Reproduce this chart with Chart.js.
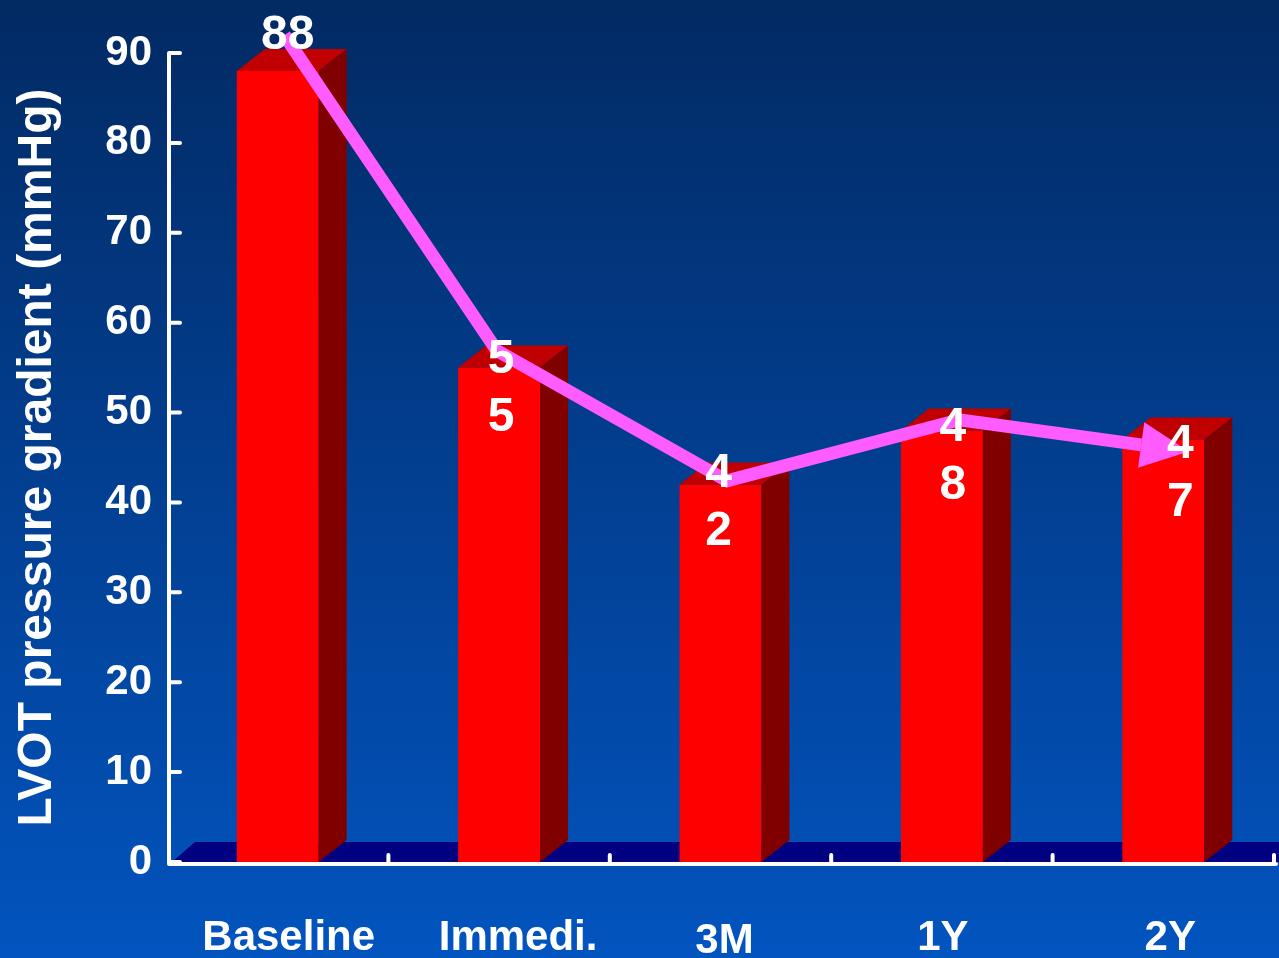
<!DOCTYPE html>
<html lang="en">
<head>
<meta charset="UTF-8">
<title>LVOT pressure gradient</title>
<script src="https://cdn.jsdelivr.net/npm/chart.js"></script>
<style>
  html, body { margin: 0; padding: 0; background: #022a63; }
  canvas { display: block; }
</style>
</head>
<body>
<canvas id="chart" width="1279" height="958"></canvas>
<script>
// data
const categories = ['Baseline', 'Immedi.', '3M', '1Y', '2Y'];
const gradientValues = [88, 55, 42, 48, 47];
const yTicks = [0, 10, 20, 30, 40, 50, 60, 70, 80, 90];
// trend arrow drawn over the bars (x in category units)
const trendX = [0.03, 0.99, 2.03, 3.08, 3.90];
const trendY = [92, 56.9, 42.4, 49.2, 46.4];
// all value labels except the first are written one digit per line
const stackDigits = [false, true, true, true, true];

// styling
const FONT = '"Liberation Sans", Arial, Helvetica, sans-serif';
const DEPTH_X = 28, DEPTH_Y = 22;
const valueNudge = [[10, -39], [2, -12], [-2, -14], [11, -7], [17, 1]];
const catNudge = [[11, 0], [19, 0], [4, 3], [1, 0], [7, 0]];

function poly(ctx, pts) {
    ctx.beginPath();
    ctx.moveTo(pts[0][0], pts[0][1]);
    for (let i = 1; i < pts.length; i++) ctx.lineTo(pts[i][0], pts[i][1]);
    ctx.closePath();
    ctx.fill();
}

const slideDecor = {
    id: 'slideDecor',
    beforeDraw(chart) {
        const {ctx, width, height} = chart;
        const g = ctx.createLinearGradient(0, 0, 0, height);
        g.addColorStop(0, '#022a63');
        g.addColorStop(1, '#0254bf');
        ctx.save();
        ctx.fillStyle = g;
        ctx.fillRect(0, 0, width, height);
        ctx.restore();
    },
    beforeDatasetsDraw(chart) {
        // navy floor behind the bars
        const {ctx, chartArea, width} = chart;
        const base = chart.scales.y.getPixelForValue(0);
        ctx.save();
        ctx.fillStyle = '#000080';
        poly(ctx, [[chartArea.left + 5, base], [chartArea.left + 28, base - 20], [width, base - 20], [width, base]]);
        ctx.restore();
    },
    afterDatasetDraw(chart, args) {
        const ctx = chart.ctx;
        const meta = args.meta;
        ctx.save();
        if (meta.type === 'bar') {
            // top and side faces of each bar
            meta.data.forEach(el => {
                const {x, y, base, width} = el.getProps(['x', 'y', 'base', 'width'], true);
                const l = x - width / 2, r = x + width / 2;
                ctx.fillStyle = '#c00000';
                poly(ctx, [[l, y], [l + DEPTH_X, y - DEPTH_Y], [r + DEPTH_X, y - DEPTH_Y], [r, y]]);
                ctx.fillStyle = '#800000';
                poly(ctx, [[r, y], [r + DEPTH_X, y - DEPTH_Y], [r + DEPTH_X, base - DEPTH_Y], [r, base]]);
            });
        } else if (meta.type === 'line') {
            // arrow head on the last point
            const pts = meta.data;
            const a = pts[pts.length - 2], b = pts[pts.length - 1];
            let dx = b.x - a.x, dy = b.y - a.y;
            const len = Math.hypot(dx, dy);
            dx /= len; dy /= len;
            const px = -dy, py = dx;
            ctx.fillStyle = '#ff5cff';
            poly(ctx, [
                [b.x + px * 23, b.y + py * 23],
                [b.x + dx * 48, b.y + dy * 48],
                [b.x - px * 23, b.y - py * 23]
            ]);
        }
        ctx.restore();
    },
    afterDatasetsDraw(chart) {
        const {ctx, chartArea} = chart;
        const yScale = chart.scales.y;
        const xScale = chart.scales.x;
        const base = yScale.getPixelForValue(0);
        const axisX = chartArea.left + 2;
        const catW = (chartArea.right - chartArea.left) / categories.length;

        ctx.save();
        ctx.strokeStyle = '#ffffff';
        ctx.lineWidth = 4;
        ctx.lineCap = 'round';
        ctx.beginPath();
        // y axis and its inward ticks
        ctx.moveTo(axisX, yScale.getPixelForValue(yTicks[yTicks.length - 1]));
        ctx.lineTo(axisX, base + 2);
        yTicks.forEach(v => {
            const y = yScale.getPixelForValue(v);
            ctx.moveTo(axisX, y);
            ctx.lineTo(axisX + 11, y);
        });
        // x axis and category dividers
        ctx.moveTo(axisX, base + 2);
        ctx.lineTo(chartArea.right + 2, base + 2);
        for (let i = 1; i <= categories.length; i++) {
            const x = chartArea.left + i * catW;
            ctx.moveTo(x, base + 2);
            ctx.lineTo(x, base - 7);
        }
        ctx.stroke();

        ctx.fillStyle = '#ffffff';
        ctx.textAlign = 'center';
        ctx.textBaseline = 'alphabetic';

        // value labels
        ctx.font = 'bold 48px ' + FONT;
        chart.getDatasetMeta(0).data.forEach((el, i) => {
            const text = String(gradientValues[i]);
            const lines = stackDigits[i] ? text.split('') : [text];
            const cx = el.x + valueNudge[i][0];
            const cy = el.y + valueNudge[i][1];
            lines.forEach((t, k) => ctx.fillText(t, cx, cy + 17 + k * 58));
        });

        // category labels
        ctx.font = 'bold 42px ' + FONT;
        categories.forEach((c, i) => {
            const x = xScale.getPixelForValue(i) + catNudge[i][0];
            ctx.fillText(c, x, base + 88 + catNudge[i][1]);
        });
        ctx.restore();
    }
};

const chart = new Chart(document.getElementById('chart'), {
    data: {
        labels: categories,
        datasets: [{
            type: 'bar',
            data: gradientValues,
            backgroundColor: '#ff0000',
            borderWidth: 0,
            grouped: false,
            categoryPercentage: 1,
            barPercentage: 0.37,
            xAxisID: 'x',
            order: 1
        }, {
            type: 'line',
            data: trendX.map((x, i) => ({x: x, y: trendY[i]})),
            xAxisID: 'xl',
            borderColor: '#ff5cff',
            borderWidth: 13,
            borderJoinStyle: 'miter',
            borderCapStyle: 'butt',
            pointRadius: 0,
            tension: 0,
            clip: false,
            order: 0
        }]
    },
    options: {
        responsive: false,
        animation: false,
        devicePixelRatio: 1,
        layout: { padding: { left: 0, right: 5, top: 53, bottom: 0 } },
        plugins: {
            legend: { display: false },
            tooltip: { enabled: false }
        },
        scales: {
            x: {
                type: 'category',
                grid: { display: false },
                border: { display: false },
                ticks: { display: false },
                afterFit: s => { s.height = 96; }
            },
            xl: {
                type: 'linear',
                display: false,
                min: -0.5,
                max: 4.5
            },
            y: {
                min: 0,
                max: 90,
                grid: { display: false },
                border: { display: false },
                afterBuildTicks: s => { s.ticks = yTicks.map(v => ({value: v})); },
                afterFit: s => { s.width = 167; },
                ticks: {
                    color: '#ffffff',
                    padding: 7,
                    font: { family: FONT, size: 42, weight: 'bold' }
                },
                title: {
                    display: true,
                    text: 'LVOT pressure gradient (mmHg)',
                    color: '#ffffff',
                    padding: { top: 9, bottom: 0 },
                    font: { family: FONT, size: 48, weight: 'bold' }
                }
            }
        }
    },
    plugins: [slideDecor]
});
</script>
</body>
</html>
